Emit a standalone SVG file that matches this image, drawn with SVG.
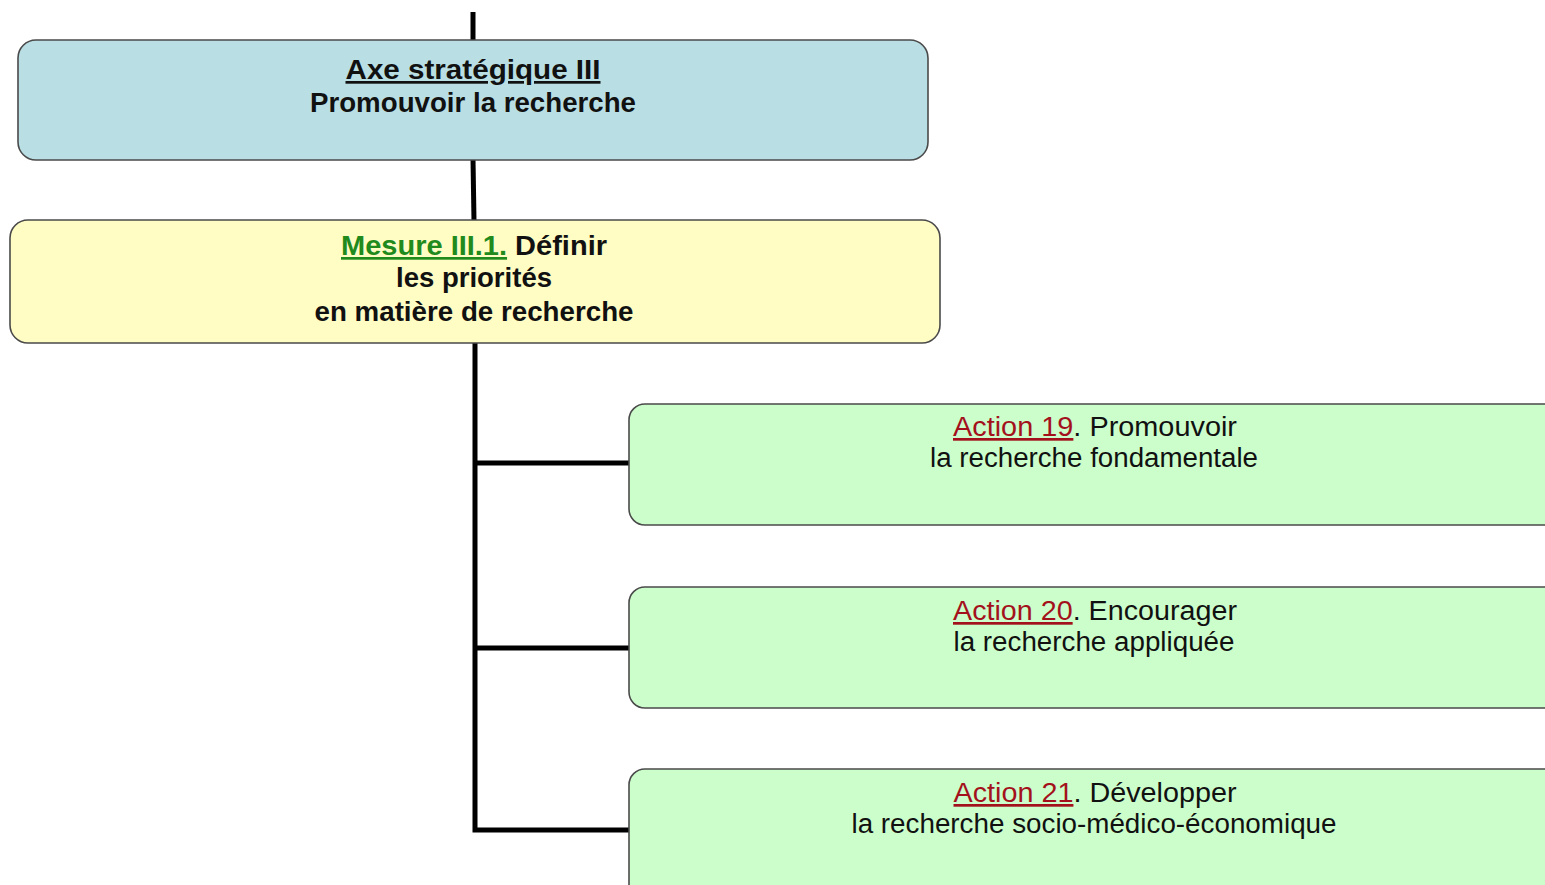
<svg xmlns="http://www.w3.org/2000/svg" width="1545" height="885" viewBox="0 0 1545 885">
<style>
.box{stroke:#4a4a4a;stroke-width:1.6}
.axe{fill:#b9dfe4}
.mes{fill:#fffcc4}
.act{fill:#ccfecb}
.t{font-family:"Liberation Sans",Arial,sans-serif;font-size:27px;text-anchor:middle;fill:#111}
.b{font-weight:bold}
.conn{stroke:#000;stroke-width:5;fill:none}
.u{text-decoration:underline}
.g{fill:#218a1c}
.r{fill:#a3121c}
</style>
<rect width="1545" height="885" fill="#fff"/>
<g id="connectors">
<line class="conn" x1="473" y1="12" x2="473" y2="41"/>
<line class="conn" x1="473" y1="159" x2="474" y2="221"/>
<polyline class="conn" points="475,342 475,830 630,830"/>
<line class="conn" x1="475" y1="463" x2="630" y2="463"/>
<line class="conn" x1="475" y1="648" x2="630" y2="648"/>
</g>
<g id="axe3">
<rect class="box axe" x="18" y="40" width="910" height="120" rx="18"/>
<text class="t b" x="473" y="79" textLength="255" lengthAdjust="spacingAndGlyphs"><tspan class="u">Axe stratégique III</tspan></text>
<text class="t b" x="473" y="112" textLength="326" lengthAdjust="spacingAndGlyphs">Promouvoir la recherche</text>
</g>
<g id="mesure31">
<rect class="box mes" x="10" y="220" width="930" height="123" rx="18"/>
<text class="t b" x="474" y="255" textLength="266" lengthAdjust="spacingAndGlyphs"><tspan class="u g">Mesure III.1.</tspan> Définir</text>
<text class="t b" x="474" y="287" textLength="156" lengthAdjust="spacingAndGlyphs">les priorités</text>
<text class="t b" x="474" y="321" textLength="319" lengthAdjust="spacingAndGlyphs">en matière de recherche</text>
</g>
<g id="action19">
<rect class="box act" x="629" y="404" width="960" height="121" rx="16"/>
<text class="t" x="1095" y="436" textLength="284" lengthAdjust="spacingAndGlyphs"><tspan class="u r">Action 19</tspan>. Promouvoir</text>
<text class="t" x="1094" y="467" textLength="328" lengthAdjust="spacingAndGlyphs">la recherche fondamentale</text>
</g>
<g id="action20">
<rect class="box act" x="629" y="587" width="960" height="121" rx="16"/>
<text class="t" x="1095" y="620" textLength="284" lengthAdjust="spacingAndGlyphs"><tspan class="u r">Action 20</tspan>. Encourager</text>
<text class="t" x="1094" y="651" textLength="281" lengthAdjust="spacingAndGlyphs">la recherche appliquée</text>
</g>
<g id="action21">
<rect class="box act" x="629" y="769" width="960" height="140" rx="16"/>
<text class="t" x="1095" y="802" textLength="283" lengthAdjust="spacingAndGlyphs"><tspan class="u r">Action 21</tspan>. Développer</text>
<text class="t" x="1094" y="833" textLength="485" lengthAdjust="spacingAndGlyphs">la recherche socio-médico-économique</text>
</g>
</svg>
